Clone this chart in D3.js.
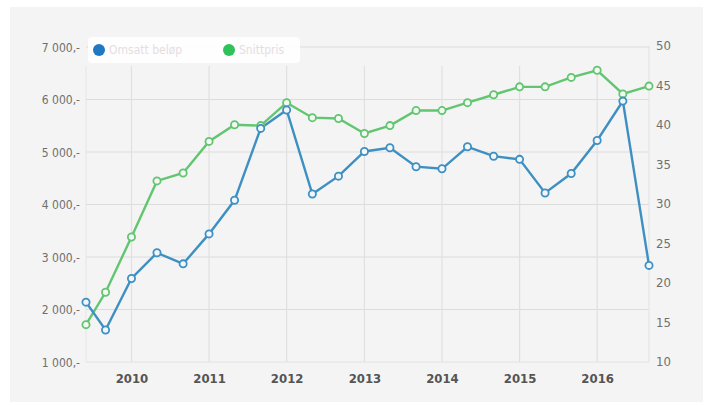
<!DOCTYPE html>
<html><head><meta charset="utf-8">
<script src="https://cdn.jsdelivr.net/npm/d3@7"></script>
<style>
body{margin:0;background:#fff;}
svg{display:block;}
</style></head>
<body>
<svg id="c" width="712" height="405"></svg>
<script>
const dates = ["2009-06","2009-09","2010-01","2010-05","2010-09","2011-01","2011-05","2011-09","2012-01","2012-05","2012-09","2013-01","2013-05","2013-09","2014-01","2014-05","2014-09","2015-01","2015-05","2015-09","2016-01","2016-05","2016-09"];
const amountValues = [2140,1610,2590,3080,2870,3440,4080,5450,5800,4200,4540,5010,5080,4720,4680,5100,4920,4860,4220,4590,5220,5970,2840];
const priceValues = [14.6,18.7,25.7,32.8,33.8,37.8,39.9,39.8,42.7,40.8,40.7,38.8,39.8,41.7,41.7,42.7,43.7,44.7,44.7,45.9,46.8,43.8,44.8];
const leftTicks = [1000,2000,3000,4000,5000,6000,7000];
const rightTicks = [10,15,20,25,30,35,40,45,50];
const yearTicks = [2010,2011,2012,2013,2014,2015,2016];
const seriesNames = ["Omsatt beløp","Snittpris"];

const svg = d3.select("#c");
const parse = d3.timeParse("%Y-%m");
const pts = dates.map((d,i)=>({date:parse(d), a:amountValues[i], p:priceValues[i]}));

const x = d3.scaleTime().domain([parse("2009-06"), parse("2016-09")]).range([86, 649]);
const yL = d3.scaleLinear().domain([1000,7000]).range([362,47]);
const yR = d3.scaleLinear().domain([10,50]).range([361,45]);

svg.append("rect").attr("x",10).attr("y",7).attr("width",693).attr("height",395).attr("fill","#f4f4f4");

const g = svg.append("g");
g.selectAll("line.h").data(leftTicks.slice(1)).join("line")
 .attr("x1",86).attr("x2",649).attr("y1",d=>yL(d)).attr("y2",d=>yL(d))
 .attr("stroke","#dcdcdc").attr("stroke-width",1.2);
g.selectAll("line.v").data(yearTicks).join("line")
 .attr("x1",d=>x(new Date(d,0,1))).attr("x2",d=>x(new Date(d,0,1)))
 .attr("y1",66).attr("y2",362).attr("stroke","#e0e0e0").attr("stroke-width",1.2);
g.append("line").attr("x1",86).attr("x2",86).attr("y1",66).attr("y2",362).attr("stroke","#e6e6e6");
g.append("line").attr("x1",649).attr("x2",649).attr("y1",46).attr("y2",362).attr("stroke","#e2e2e2");
g.append("line").attr("x1",86).attr("x2",649).attr("y1",362).attr("y2",362).attr("stroke","#e2e2e2");

const fmtL = d => { const s = String(d); return s.slice(0, s.length-3) + " " + s.slice(-3) + ",-"; };
const font = "'DejaVu Sans Condensed','DejaVu Sans',sans-serif";
const axL = d3.axisLeft(yL).tickValues(leftTicks).tickFormat(fmtL).tickSize(0).tickPadding(0);
const gl = svg.append("g").attr("transform","translate(80,0)").call(axL);
gl.select(".domain").remove();
gl.selectAll("text").attr("fill","#6f6f6f").attr("font-size",12).attr("font-family",font).attr("dy","0.35em");

const axR = d3.axisRight(yR).tickValues(rightTicks).tickSize(0).tickPadding(0);
const gr = svg.append("g").attr("transform","translate(656,0)").call(axR);
gr.select(".domain").remove();
gr.selectAll("text").attr("fill","#707070").attr("font-size",13).attr("font-family",font).attr("dy","0.35em");

const axB = d3.axisBottom(x).tickValues(yearTicks.map(y=>new Date(y,0,1))).tickFormat(d3.timeFormat("%Y")).tickSize(0).tickPadding(0);
const gb = svg.append("g").attr("transform","translate(0,378)").call(axB);
gb.select(".domain").remove();
gb.selectAll("text").attr("fill","#555").attr("font-size",13).attr("font-weight","bold").attr("font-family",font).attr("dy","0.35em");

const lineA = d3.line().x(d=>x(d.date)).y(d=>yL(d.a));
const lineP = d3.line().x(d=>x(d.date)).y(d=>yR(d.p));
const blue = "#3e8fc2", green = "#62c570";
svg.append("path").datum(pts).attr("d",lineP).attr("fill","none").attr("stroke",green).attr("stroke-width",2.4);
svg.append("path").datum(pts).attr("d",lineA).attr("fill","none").attr("stroke",blue).attr("stroke-width",2.4);
svg.selectAll("circle.p").data(pts).join("circle").attr("cx",d=>x(d.date)).attr("cy",d=>yR(d.p)).attr("r",3.6)
 .attr("fill","#f2f8f2").attr("stroke",green).attr("stroke-width",1.8);
svg.selectAll("circle.a").data(pts).join("circle").attr("cx",d=>x(d.date)).attr("cy",d=>yL(d.a)).attr("r",3.6)
 .attr("fill","#f0f6fa").attr("stroke",blue).attr("stroke-width",1.8);

const lg = svg.append("g");
lg.append("rect").attr("x",88).attr("y",37).attr("width",212).attr("height",26).attr("rx",4).attr("fill","#ffffff").attr("opacity",0.9);
const legendItems = [{name:seriesNames[0], color:"#1f78c1", x:99},{name:seriesNames[1], color:"#2fc15a", x:229}];
legendItems.forEach(it=>{
  lg.append("circle").attr("cx",it.x).attr("cy",50).attr("r",6).attr("fill",it.color);
  lg.append("text").attr("x",it.x+10).attr("y",50).attr("dy","0.35em").attr("font-size",12)
    .attr("font-family",font).attr("fill","#e6dde1").text(it.name);
});
</script>
</body></html>
